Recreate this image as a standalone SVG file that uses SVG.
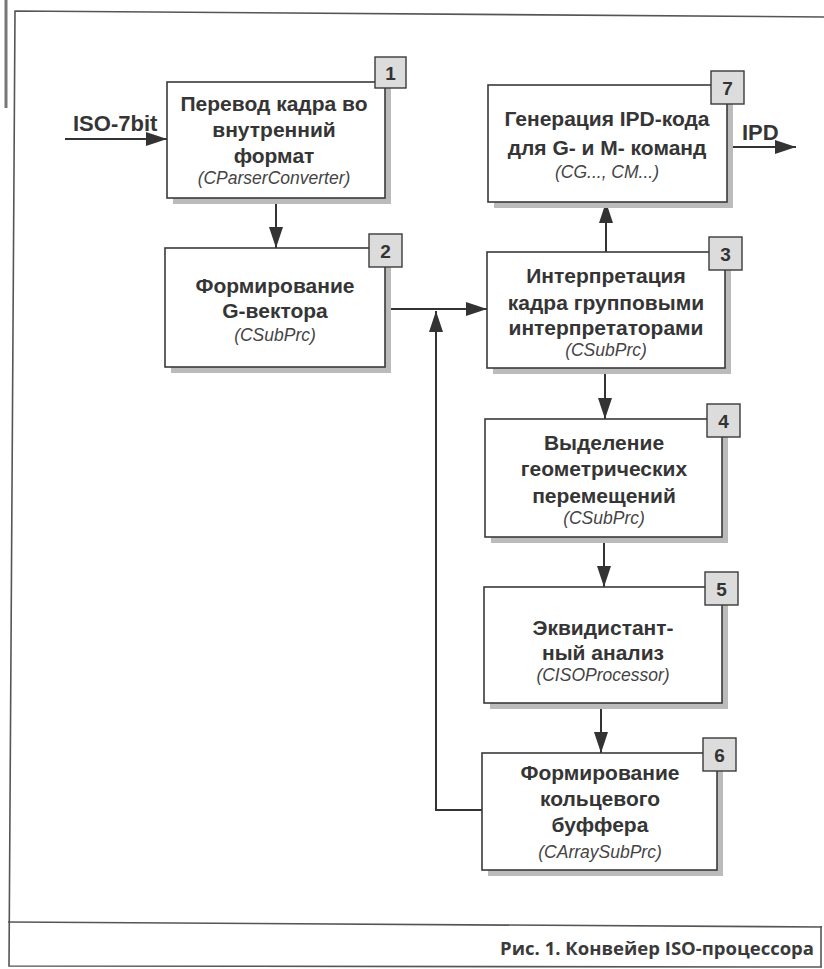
<svg xmlns="http://www.w3.org/2000/svg" width="824" height="969" viewBox="0 0 824 969">
<defs>
<style>
.frame{fill:none;stroke:#555;stroke-width:1.6}
.box{fill:#fff;stroke:#3a3a3a;stroke-width:1.6}
.shadow{fill:#bbb}
.num{fill:#dcdcdc;stroke:#3a3a3a;stroke-width:1.4}
.numt{font-family:"Liberation Sans",Arial,sans-serif;font-weight:bold;font-size:19px;fill:#333;text-anchor:middle}
.t{font-family:"Liberation Sans",Arial,sans-serif;font-weight:bold;font-size:21px;fill:#353535;text-anchor:middle}
.i{font-family:"Liberation Sans",Arial,sans-serif;font-style:italic;font-size:17.5px;fill:#444;text-anchor:middle}
.lbl{font-family:"Liberation Sans",Arial,sans-serif;font-weight:bold;font-size:22px;fill:#353535}
.cap{font-family:"Open Sans","DejaVu Sans",sans-serif;font-weight:bold;font-size:18.5px;fill:#3a3a3a;text-anchor:end}
.c{fill:none;stroke:#333;stroke-width:2}
</style>
<marker id="ah" markerUnits="userSpaceOnUse" markerWidth="22" markerHeight="14" refX="21" refY="7" orient="auto">
<path d="M0,0 L21,7 L0,14 Z" fill="#333"/>
</marker>
</defs>
<rect width="824" height="969" fill="#fff"/>
<g id="frame">
<line x1="6" y1="0" x2="6" y2="108" stroke="#777" stroke-width="3"/>
<path class="frame" d="M824,17 L15,11 L9,966 L822,967"/>
<line class="frame" x1="8" y1="922" x2="822" y2="927"/>
<line class="frame" x1="821" y1="926" x2="821" y2="967"/>
</g>
<g id="connectors">
<line class="c" x1="65" y1="139" x2="167" y2="139" marker-end="url(#ah)"/>
<line class="c" x1="276" y1="198" x2="276" y2="248" marker-end="url(#ah)"/>
<line class="c" x1="385" y1="309" x2="487" y2="309" marker-end="url(#ah)"/>
<line class="c" x1="606" y1="252" x2="606" y2="202" marker-end="url(#ah)"/>
<line class="c" x1="727" y1="147" x2="796" y2="147" marker-end="url(#ah)"/>
<line class="c" x1="605" y1="368" x2="605" y2="419" marker-end="url(#ah)"/>
<line class="c" x1="604" y1="537" x2="604" y2="587" marker-end="url(#ah)"/>
<line class="c" x1="601" y1="703" x2="601" y2="753" marker-end="url(#ah)"/>
<polyline class="c" points="482,810 436,810 436,311" marker-end="url(#ah)"/>
<text class="lbl" x="73" y="131">ISO-7bit</text>
<text class="lbl" x="742" y="140">IPD</text>
</g>
<g id="node1">
<rect class="shadow" x="173" y="88" width="218" height="116"/>
<rect class="box" x="167" y="82" width="218" height="116"/>
<rect class="num" x="375" y="57" width="31" height="31"/>
<text class="numt" x="390.5" y="80">1</text>
<text class="t" x="274" y="111">Перевод кадра во</text>
<text class="t" x="274" y="137">внутренний</text>
<text class="t" x="274" y="163">формат</text>
<text class="i" x="274" y="184">(CParserConverter)</text>
</g>
<g id="node7">
<rect class="shadow" x="494" y="91" width="239" height="117"/>
<rect class="box" x="488" y="85" width="239" height="117"/>
<rect class="num" x="711" y="71" width="33" height="33"/>
<text class="numt" x="727.5" y="95">7</text>
<text class="t" x="607" y="126">Генерация IPD-кода</text>
<text class="t" x="607" y="155">для G- и M- команд</text>
<text class="i" x="607" y="178">(CG..., CM...)</text>
</g>
<g id="node2">
<rect class="shadow" x="171" y="254" width="220" height="119"/>
<rect class="box" x="165" y="248" width="220" height="119"/>
<rect class="num" x="369" y="234" width="33" height="33"/>
<text class="numt" x="385.5" y="258">2</text>
<text class="t" x="275" y="293">Формирование</text>
<text class="t" x="275" y="318">G-вектора</text>
<text class="i" x="275" y="341">(CSubPrc)</text>
</g>
<g id="node3">
<rect class="shadow" x="493" y="258" width="238" height="116"/>
<rect class="box" x="487" y="252" width="238" height="116"/>
<rect class="num" x="709" y="237" width="33" height="33"/>
<text class="numt" x="725.5" y="261">3</text>
<text class="t" x="606" y="283">Интерпретация</text>
<text class="t" x="606" y="310">кадра групповыми</text>
<text class="t" x="606" y="335">интерпретаторами</text>
<text class="i" x="606" y="356">(CSubPrc)</text>
</g>
<g id="node4">
<rect class="shadow" x="491" y="425" width="237" height="118"/>
<rect class="box" x="485" y="419" width="237" height="118"/>
<rect class="num" x="707" y="404" width="33" height="33"/>
<text class="numt" x="723.5" y="428">4</text>
<text class="t" x="604" y="450">Выделение</text>
<text class="t" x="604" y="476">геометрических</text>
<text class="t" x="604" y="503">перемещений</text>
<text class="i" x="604" y="524">(CSubPrc)</text>
</g>
<g id="node5">
<rect class="shadow" x="490" y="593" width="238" height="116"/>
<rect class="box" x="484" y="587" width="238" height="116"/>
<rect class="num" x="705" y="572" width="33" height="33"/>
<text class="numt" x="721.5" y="596">5</text>
<text class="t" x="603" y="635">Эквидистант-</text>
<text class="t" x="603" y="660">ный анализ</text>
<text class="i" x="603" y="681">(CISOProcessor)</text>
</g>
<g id="node6">
<rect class="shadow" x="488" y="759" width="235" height="117"/>
<rect class="box" x="482" y="753" width="235" height="117"/>
<rect class="num" x="703" y="738" width="33" height="33"/>
<text class="numt" x="719.5" y="762">6</text>
<text class="t" x="600" y="780">Формирование</text>
<text class="t" x="600" y="806">кольцевого</text>
<text class="t" x="600" y="832">буффера</text>
<text class="i" x="600" y="858">(CArraySubPrc)</text>
</g>
<g id="caption">
<text class="cap" x="814" y="955">Рис. 1. Конвейер ISO-процессора</text>
</g>
</svg>
